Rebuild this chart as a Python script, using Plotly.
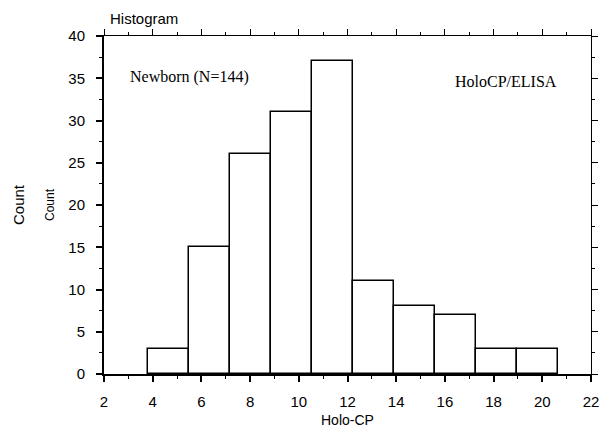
import plotly.graph_objects as go

# Histogram bins (Holo-CP) and counts
bin_edges = [3.8, 5.483, 7.166, 8.849, 10.532, 12.215, 13.898, 15.581, 17.264, 18.947, 20.63]
counts = [3, 15, 26, 31, 37, 11, 8, 7, 3, 3]
x_ticks = [2, 4, 6, 8, 10, 12, 14, 16, 18, 20, 22]
y_ticks = [0, 5, 10, 15, 20, 25, 30, 35, 40]

lefts = bin_edges[:-1]
widths = [bin_edges[i + 1] - bin_edges[i] for i in range(len(counts))]

fig = go.Figure()
fig.add_trace(go.Bar(
    x=lefts, y=counts, width=widths, offset=0,
    marker=dict(color="white", line=dict(color="black", width=1.5)),
    hoverinfo="skip", showlegend=False,
))
# invisible trace to activate the mirrored (top/right) axes
fig.add_trace(go.Scatter(x=[2, 22], y=[0, 40], xaxis="x2", yaxis="y2",
                         mode="markers", marker=dict(opacity=0),
                         hoverinfo="skip", showlegend=False))

tickfont = dict(family="Liberation Sans, Arial", size=15, color="black")

fig.update_layout(
    width=602, height=430,
    margin=dict(l=104, r=11, t=36, b=56, autoexpand=False),
    paper_bgcolor="white", plot_bgcolor="white",
    bargap=0,
    xaxis=dict(range=[2, 22], tickvals=x_ticks, ticks="outside", ticklen=6,
               tickwidth=1.5, tickcolor="black", showgrid=False, zeroline=False,
               showline=True, linecolor="black", linewidth=2, automargin=False,
               minor=dict(dtick=1, tick0=0, ticks="outside", ticklen=3,
                          tickcolor="black", tickwidth=1),
               tickfont=tickfont, ticklabelstandoff=7),
    yaxis=dict(range=[0, 40], tickvals=y_ticks, ticks="outside", ticklen=6,
               tickwidth=1.5, tickcolor="black", showgrid=False, zeroline=False,
               showline=True, linecolor="black", linewidth=2, automargin=False,
               minor=dict(dtick=2.5, tick0=0, ticks="outside", ticklen=3,
                          tickcolor="black", tickwidth=1),
               tickfont=tickfont, ticklabelstandoff=8),
    xaxis2=dict(range=[2, 22], overlaying="x", side="top", tickvals=x_ticks,
                ticks="outside", ticklen=6, tickwidth=1, tickcolor="black",
                showticklabels=False, showgrid=False, zeroline=False,
                showline=True, linecolor="black", linewidth=1, automargin=False,
                minor=dict(dtick=1, tick0=0, ticks="outside", ticklen=3,
                           tickcolor="black", tickwidth=1)),
    yaxis2=dict(range=[0, 40], overlaying="y", side="right", tickvals=y_ticks,
                ticks="outside", ticklen=6, tickwidth=1, tickcolor="black",
                showticklabels=False, showgrid=False, zeroline=False,
                showline=True, linecolor="black", linewidth=1, automargin=False,
                minor=dict(dtick=2.5, tick0=0, ticks="outside", ticklen=3,
                           tickcolor="black", tickwidth=1)),
    annotations=[
        dict(text="Histogram", xref="paper", yref="paper", x=0.008, y=1.0,
             yshift=18, xanchor="left", yanchor="middle", showarrow=False,
             font=dict(family="Liberation Sans, Arial", size=15, color="black")),
        dict(text="Holo-CP", xref="paper", yref="paper", x=0.5, y=0, yshift=-46,
             xanchor="center", yanchor="middle", showarrow=False,
             font=dict(family="Liberation Sans, Arial", size=14, color="black")),
        dict(text="Count", xref="paper", yref="paper", x=0, xshift=-86, y=0.5,
             textangle=-90, xanchor="center", yanchor="middle", showarrow=False,
             font=dict(family="Liberation Sans, Arial", size=15, color="black")),
        dict(text="Count", xref="paper", yref="paper", x=0, xshift=-54, y=0.5,
             textangle=-90, xanchor="center", yanchor="middle", showarrow=False,
             font=dict(family="Liberation Sans, Arial", size=12, color="black")),
        dict(text="Newborn (N=144)", xref="x", yref="y", x=5.53, y=35.1,
             xanchor="center", yanchor="middle", showarrow=False,
             font=dict(family="Liberation Serif, Times New Roman", size=16, color="black")),
        dict(text="HoloCP/ELISA", xref="x", yref="y", x=18.5, y=34.6,
             xanchor="center", yanchor="middle", showarrow=False,
             font=dict(family="Liberation Serif, Times New Roman", size=16, color="black")),
    ],
)

fig.write_html("out.html")
